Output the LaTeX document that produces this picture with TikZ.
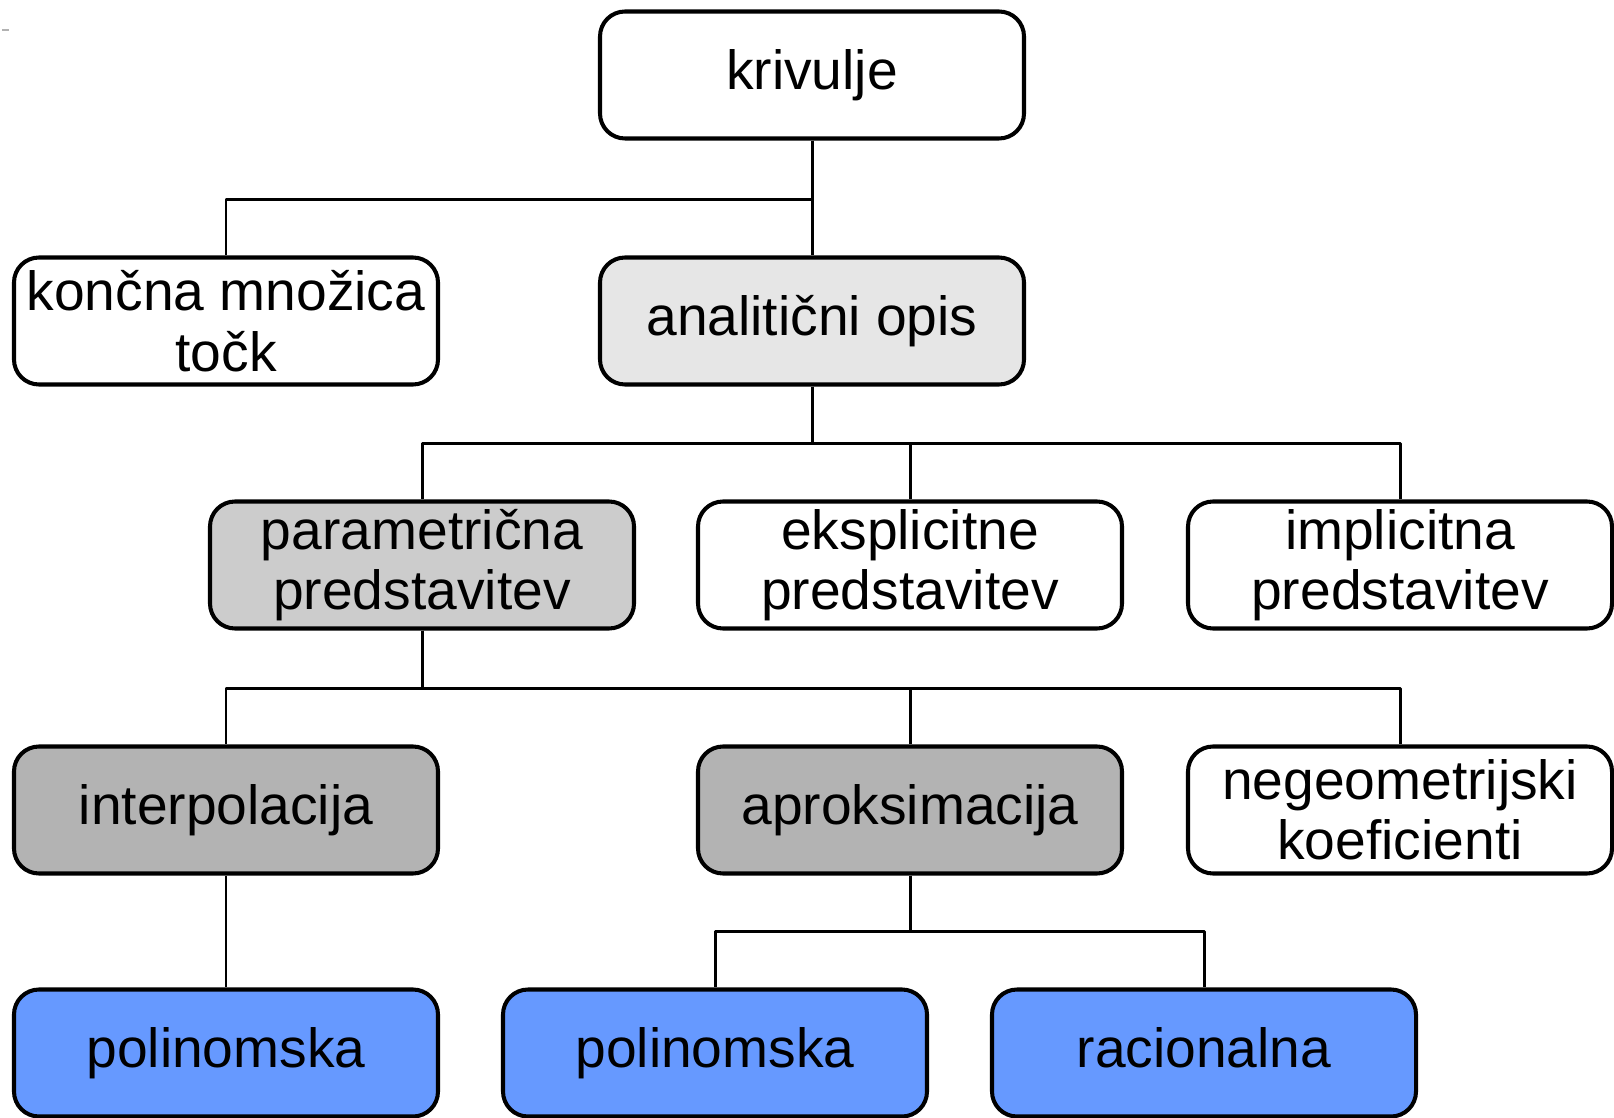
\documentclass[tikz,border=0pt]{standalone}
\usepackage{fontspec}
\setmainfont{Liberation Sans}
\definecolor{sivaA}{HTML}{E6E6E6}
\definecolor{sivaB}{HTML}{CCCCCC}
\definecolor{sivaC}{HTML}{B3B3B3}
\definecolor{modra}{HTML}{6699FF}
\begin{document}
\begin{tikzpicture}[scale=1,line join=round,
    box/.style={draw,line width=1.15pt,rounded corners=0.25cm,fill=white,
      minimum width=4.24cm,minimum height=1.27cm,inner sep=0pt,align=center,
      font=\fontsize{15.7}{17.2}\selectfont},
    link/.style={line width=0.85pt}]
    \useasboundingbox (0,0) rectangle (16.14,-11.18);
    \draw[line width=0.6pt,gray!60] (0.02,-0.30)--(0.09,-0.30);

    \node[box] (krivulje) at (8.12,-0.75) {krivulje};

    \node[box] (koncna) at (2.26,-3.21) {končna množica\\točk};
    \node[box,fill=sivaA] (analiticni) at (8.12,-3.21) {analitični opis};

    \node[box,fill=sivaB] (parametricna) at (4.22,-5.65) {parametrična\\predstavitev};
    \node[box] (eksplicitne) at (9.10,-5.65) {eksplicitne\\predstavitev};
    \node[box] (implicitna) at (14.00,-5.65) {implicitna\\predstavitev};

    \node[box,fill=sivaC] (interpolacija) at (2.26,-8.10) {interpolacija};
    \node[box,fill=sivaC] (aproksimacija) at (9.10,-8.10) {aproksimacija};
    \node[box] (negeometrijski) at (14.00,-8.10) {negeometrijski\\koeficienti};

    \node[box,fill=modra] (polinomskaA) at (2.26,-10.53) {polinomska};
    \node[box,fill=modra] (polinomskaB) at (7.15,-10.53) {polinomska};
    \node[box,fill=modra] (racionalna) at (12.04,-10.53) {racionalna\vphantom{p}};

    \draw[link] (krivulje.south) -- ++(0,-0.59) -| (koncna.north);
    \draw[link] (krivulje.south) -- (analiticni.north);

    \draw[link] (analiticni.south) -- ++(0,-0.57) -| (parametricna.north);
    \draw[link] (analiticni.south) -- ++(0,-0.57) -| (eksplicitne.north);
    \draw[link] (analiticni.south) -- ++(0,-0.57) -| (implicitna.north);

    \draw[link] (parametricna.south) -- ++(0,-0.58) -| (interpolacija.north);
    \draw[link] (parametricna.south) -- ++(0,-0.58) -| (aproksimacija.north);
    \draw[link] (parametricna.south) -- ++(0,-0.58) -| (negeometrijski.north);

    \draw[link] (interpolacija.south) -- (polinomskaA.north);
    \draw[link] (aproksimacija.south) -- ++(0,-0.56) -| (polinomskaB.north);
    \draw[link] (aproksimacija.south) -- ++(0,-0.56) -| (racionalna.north);
\end{tikzpicture}
\end{document}
